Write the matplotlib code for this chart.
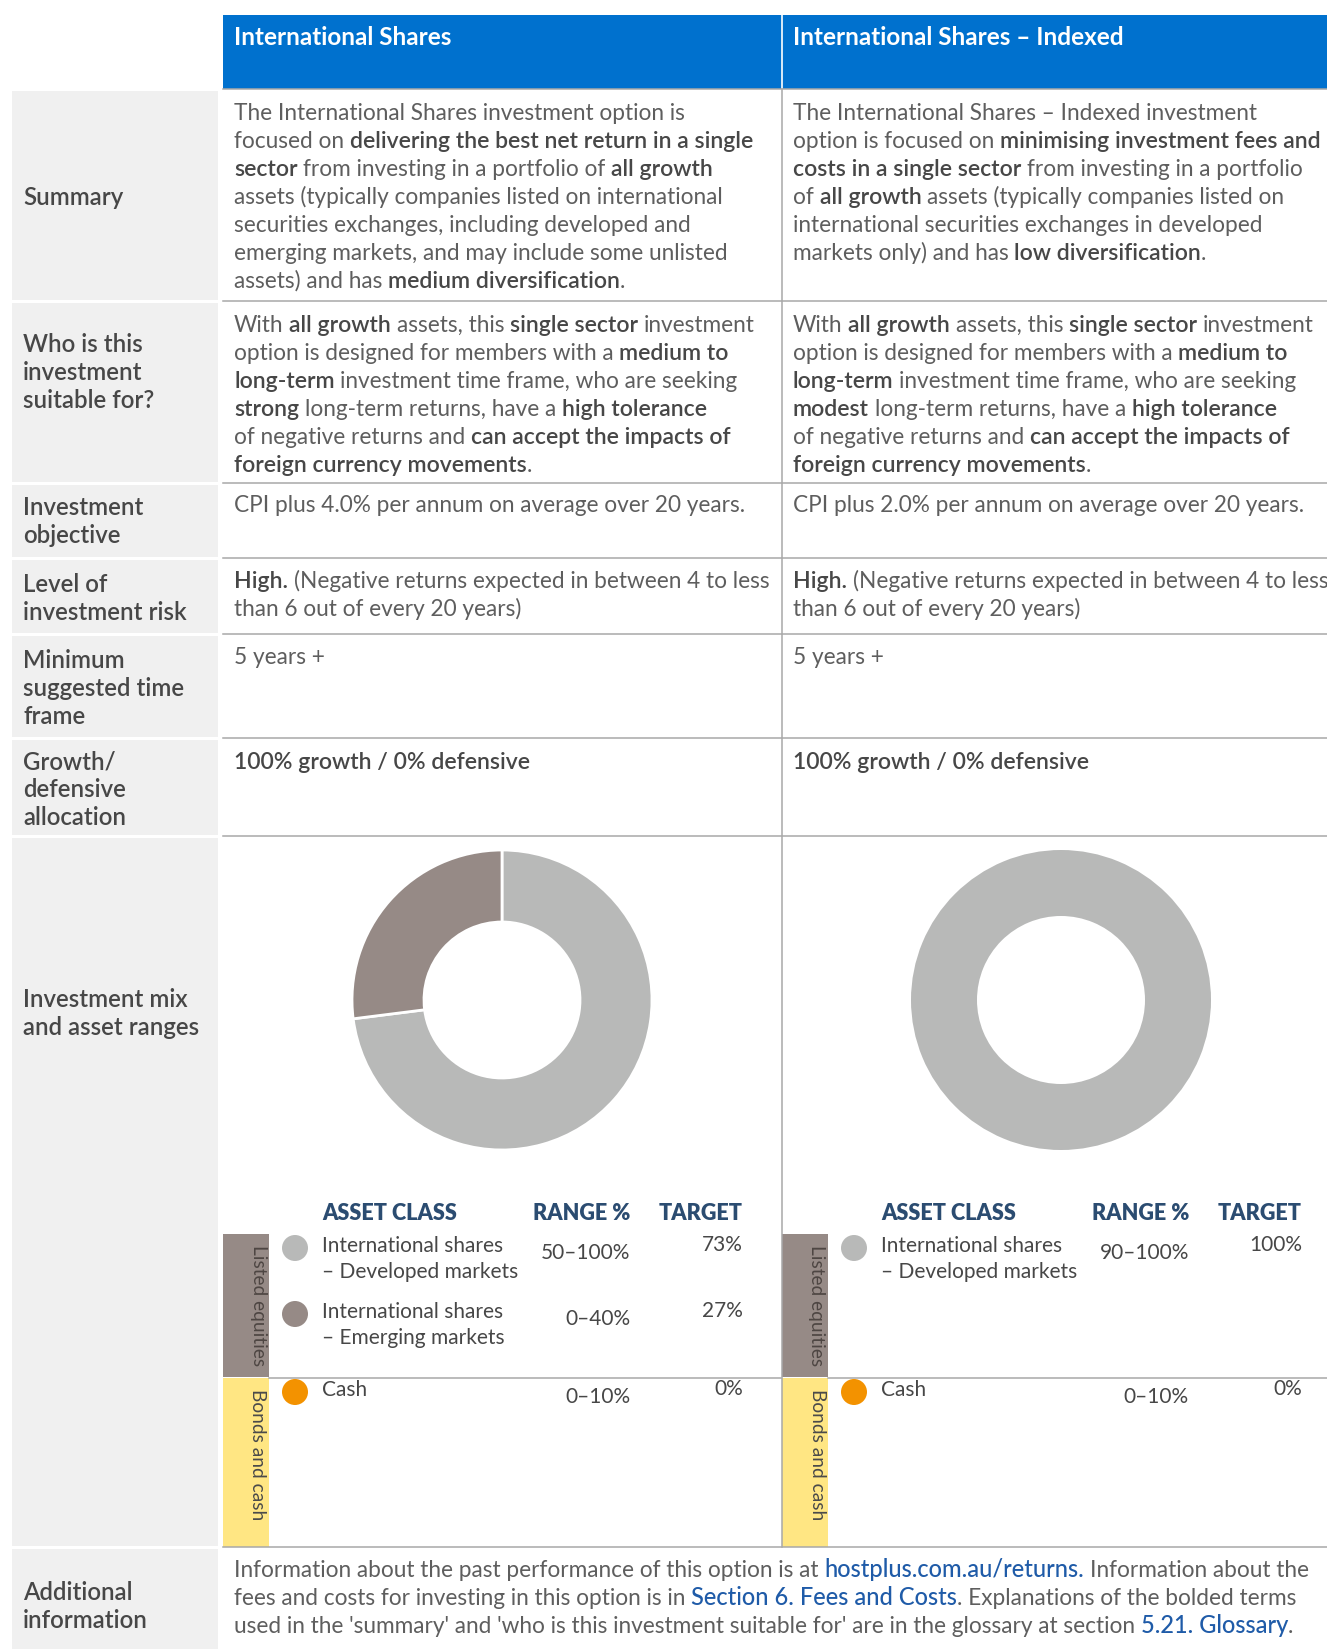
import re
import matplotlib
matplotlib.use("Agg")
import matplotlib.pyplot as plt
from matplotlib.patches import Rectangle, Circle
from matplotlib.font_manager import FontProperties

# ---------------- data ----------------
options = ["International Shares", "International Shares – Indexed"]

row_labels = [
    ["Summary"],
    ["Who is this", "investment", "suitable for?"],
    ["Investment", "objective"],
    ["Level of", "investment risk"],
    ["Minimum", "suggested time", "frame"],
    ["Growth/", "defensive", "allocation"],
    ["Investment mix", "and asset ranges"],
    ["Additional", "information"],
]

# **bold**, ##link##
summary = [
    ["The International Shares investment option is",
     "focused on **delivering the best net return in a single**",
     "**sector** from investing in a portfolio of **all growth**",
     "assets (typically companies listed on international",
     "securities exchanges, including developed and",
     "emerging markets, and may include some unlisted",
     "assets) and has **medium diversification**."],
    ["The International Shares – Indexed investment",
     "option is focused on **minimising investment fees and**",
     "**costs in a single sector** from investing in a portfolio",
     "of **all growth** assets (typically companies listed on",
     "international securities exchanges in developed",
     "markets only) and has **low diversification**."],
]
suitable = [
    ["With **all growth** assets, this **single sector** investment",
     "option is designed for members with a **medium to**",
     "**long-term** investment time frame, who are seeking",
     "**strong** long-term returns, have a **high tolerance**",
     "of negative returns and **can accept the impacts of**",
     "**foreign currency movements**."],
    ["With **all growth** assets, this **single sector** investment",
     "option is designed for members with a **medium to**",
     "**long-term** investment time frame, who are seeking",
     "**modest** long-term returns, have a **high tolerance**",
     "of negative returns and **can accept the impacts of**",
     "**foreign currency movements**."],
]
objective = [["CPI plus 4.0% per annum on average over 20 years."],
             ["CPI plus 2.0% per annum on average over 20 years."]]
risk = [["**High.** (Negative returns expected in between 4 to less",
         "than 6 out of every 20 years)"]] * 2
timeframe = [["5 years +"]] * 2
allocation = [["**100% growth / 0% defensive**"]] * 2
additional = [
    "Information about the past performance of this option is at ##hostplus.com.au/returns.## Information about the",
    "fees and costs for investing in this option is in ##Section 6. Fees and Costs##. Explanations of the bolded terms",
    "used in the 'summary' and 'who is this investment suitable for' are in the glossary at section ##5.21. Glossary##.",
]

table_head = ["ASSET CLASS", "RANGE %", "TARGET"]
asset_names = [["International shares", "– Developed markets"],
               ["International shares", "– Emerging markets"],
               ["Cash"]]
asset_colors = ["#B8B9B8", "#968A86", "#F39200"]
asset_ranges = [["50–100%", "0–40%", "0–10%"],
                ["90–100%", None, "0–10%"]]
asset_targets = [[73, 27, 0],
                 [100, None, 0]]
asset_groups = ["Listed equities", "Bonds and cash"]
group_colors = ["#968A86", "#FFE683"]
group_text = ["#4E4643", "#4A4A4A"]

# ---------------- layout ----------------
W, H = 1327, 1650
BLUE = "#0071CE"
LABEL_BG = "#F0F0F0"
RULE = "#A8A8A8"
TXT = "#5E5E5E"
BOLD = "#474747"
LINK = "#1F5BA8"
NAVY = "#2B4C71"
FAM = ["Lato", "DejaVu Sans"]

row_edges = [89, 301, 483, 558, 634, 738, 836, 1547, 1650]
label_base = [205, 352, 515, 592, 668, 769, 1007, 1600]
col_left = [223, 782]
col_right = [781, 1327]
text_x = [234, 793]
LINE = 28

fig = plt.figure(figsize=(W / 100, H / 100), dpi=100)
ax = fig.add_axes([0, 0, 1, 1])
ax.set_xlim(0, W)
ax.set_ylim(H, 0)
ax.axis("off")
renderer = fig.canvas.get_renderer()

_cache = {}


def adv(s, fp):
    key = (s, str(fp.get_weight()), fp.get_size())
    if key not in _cache:
        t1 = ax.text(0, 0, "|" + s + "|", fontproperties=fp)
        t2 = ax.text(0, 0, "||", fontproperties=fp)
        _cache[key] = (t1.get_window_extent(renderer).width
                       - t2.get_window_extent(renderer).width)
        t1.remove()
        t2.remove()
    return _cache[key]


def fit(sample, target, weight):
    fp = FontProperties(family=FAM, weight=weight, size=20)
    return 20 * target / adv(sample, fp)


fp_light = FontProperties(family=FAM, weight="normal",
                          size=fit("The International Shares investment option is", 452, "normal"))
fp_bold = FontProperties(family=FAM, weight="semibold",
                         size=fit("delivering the best net return in a single", 404, "semibold"))
fp_link = FontProperties(family=FAM, weight="medium",
                         size=fit("hostplus.com.au/returns.", 260, "medium"))
fp_label = FontProperties(family=FAM, weight="semibold",
                          size=fit("investment risk", 163, "semibold"))
fp_head = FontProperties(family=FAM, weight="bold",
                         size=fit("International Shares", 217, "bold"))
fp_asset = FontProperties(family=FAM, weight="normal",
                          size=fit("International shares", 182, "normal"))
fp_th = FontProperties(family=FAM, weight="heavy",
                       size=fit("ASSET CLASS", 135, "heavy"))
fp_group = FontProperties(family=FAM, weight="normal",
                          size=fit("Listed equities", 122, "normal"))

fps = {"light": fp_light, "bold": fp_bold, "link": fp_link}
cols = {"light": TXT, "bold": BOLD, "link": LINK}


def rich(x, y, line):
    for chunk in re.split(r"(\*\*.+?\*\*|##.+?##)", line):
        if not chunk:
            continue
        if chunk.startswith("**"):
            kind, chunk = "bold", chunk[2:-2]
        elif chunk.startswith("##"):
            kind, chunk = "link", chunk[2:-2]
        else:
            kind = "light"
        fp = fps[kind]
        sp = adv(" ", fp)
        lead = len(chunk) - len(chunk.lstrip(" "))
        trail = len(chunk) - len(chunk.rstrip(" "))
        core = chunk.strip(" ")
        x += lead * sp
        if core:
            ax.text(x, y, core, fontproperties=fp, color=cols[kind],
                    va="baseline", ha="left")
            x += adv(core, fp)
        x += trail * sp


# header
ax.add_patch(Rectangle((col_left[0], 15), W - col_left[0], 74, color=BLUE, lw=0))
ax.plot([781.5, 781.5], [15, 89], color="white", lw=1.2)
for i, name in enumerate(options):
    ax.text(text_x[i], 45, name, fontproperties=fp_head, color="white",
            va="baseline", ha="left")

# label column
for i, lab in enumerate(row_labels):
    y0, y1 = row_edges[i], row_edges[i + 1]
    ax.add_patch(Rectangle((12, y0 + 1.5), 206, y1 - y0 - 3, color=LABEL_BG, lw=0))
    for k, s in enumerate(lab):
        ax.text(23, label_base[i] + k * LINE, s, fontproperties=fp_label,
                color=BOLD, va="baseline", ha="left")

# rules
for y in row_edges[:-1]:
    ax.plot([col_left[0], W], [y, y], color=RULE, lw=1.1)
ax.plot([781.5, 781.5], [89, 1547], color=RULE, lw=1.1)

# text rows
blocks = [(summary, 120), (suitable, 332), (objective, 512),
          (risk, 588), (timeframe, 664), (allocation, 769)]
for data, base in blocks:
    for c in range(2):
        for k, line in enumerate(data[c]):
            rich(text_x[c], base + k * LINE, line)
for k, line in enumerate(additional):
    rich(text_x[0], 1577 + k * LINE, line)

# donuts
ring_width = [0.48, 0.44]
for c in range(2):
    cx, cy, r = col_left[c] + 279, 1000, 150
    pax = fig.add_axes([(cx - r) / W, 1 - (cy + r) / H, 2 * r / W, 2 * r / H])
    vals = [v for v in asset_targets[c] if v]
    clr = [asset_colors[i] for i, v in enumerate(asset_targets[c]) if v]
    pax.pie(vals, colors=clr, startangle=90, counterclock=False, radius=1,
            wedgeprops=dict(width=ring_width[c], edgecolor="white",
                            linewidth=2 if len(vals) > 1 else 0))
    pax.set_xlim(-1, 1)
    pax.set_ylim(-1, 1)
    pax.set_aspect("equal")
    pax.axis("off")

# asset tables
row_y = [1248, 1314, 1392]
group_spans = [(1234, 1377), (1378, 1547)]
for c in range(2):
    x0 = col_left[c]
    ax.text(x0 + 99, 1220, table_head[0], fontproperties=fp_th, color=NAVY,
            va="baseline", ha="left")
    ax.text(x0 + 407, 1220, table_head[1], fontproperties=fp_th, color=NAVY,
            va="baseline", ha="right")
    ax.text(x0 + 520, 1220, table_head[2], fontproperties=fp_th, color=NAVY,
            va="baseline", ha="right")
    for g, (ya, yb) in enumerate(group_spans):
        ax.add_patch(Rectangle((x0, ya), 46, yb - ya, color=group_colors[g], lw=0))
        ax.text(x0 + 35, ya + 11, asset_groups[g], fontproperties=fp_group,
                color=group_text[g], rotation=-90, ha="center", va="top")
    ax.plot([x0 + 46, col_right[c]], [1377.5, 1377.5], color=RULE, lw=1.1)
    for i, names in enumerate(asset_names):
        if asset_targets[c][i] is None:
            continue
        y = row_y[i]
        ax.add_patch(Circle((x0 + 72, y), 13, color=asset_colors[i], lw=0))
        for k, s in enumerate(names):
            ax.text(x0 + 99, y + 4 + k * 26, s, fontproperties=fp_asset,
                    color="#474747", va="baseline", ha="left")
        ax.text(x0 + 407, y + 11, asset_ranges[c][i], fontproperties=fp_asset,
                color="#474747", va="baseline", ha="right")
        ax.text(x0 + 520, y + 3, f"{asset_targets[c][i]}%", fontproperties=fp_asset,
                color="#474747", va="baseline", ha="right")

fig.savefig("out.png", dpi=100, facecolor="white")
